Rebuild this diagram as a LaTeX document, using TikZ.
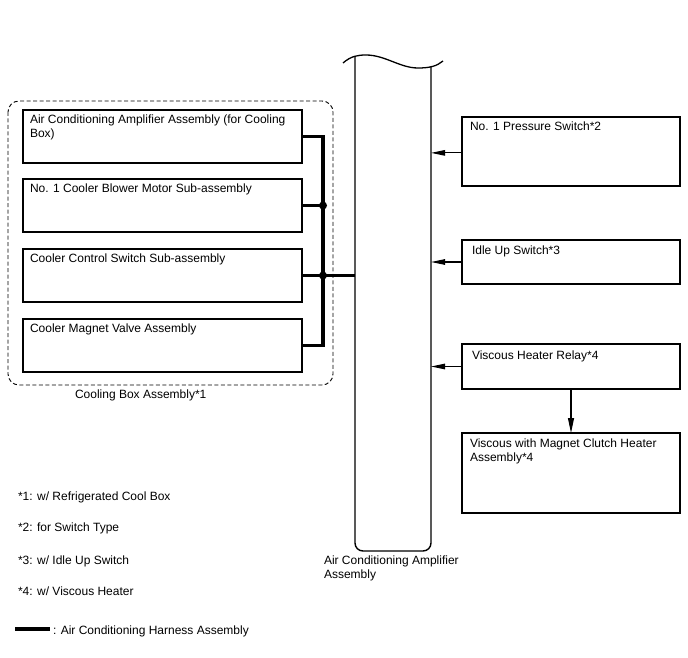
\documentclass[tikz,border=0pt]{standalone}
\usepackage{fontspec}
\setmainfont{Liberation Sans}
\usetikzlibrary{arrows.meta,calc}
\begin{document}
\begin{tikzpicture}[x=1pt,y=-1pt,
  every node/.style={inner sep=0pt,outer sep=0pt},
  box/.style={draw,line width=1.3pt,minimum width=#1,anchor=north west},
  lbl/.style={anchor=north west,align=left,font=\fontsize{12}{14}\selectfont},
  txt/.style={anchor=base west,font=\fontsize{12}{14}\selectfont},
  harness/.style={line width=3.5pt},
  sig/.style={line width=1.1pt,-{Triangle[length=14pt,width=5.5pt]}},
  dot/.style={circle,fill,minimum size=8pt}]
\useasboundingbox (0,0) rectangle (688,658);
% left boxes
\node[box=279pt,minimum height=53pt] (b1) at (23,110) {};
\node[box=279pt,minimum height=53pt] (b2) at (23,179) {};
\node[box=279pt,minimum height=53pt] (b3) at (23,249) {};
\node[box=279pt,minimum height=53pt] (b4) at (23,319) {};
\node[lbl] at ($(b1.north west)+(7,5)$) {Air Conditioning Amplifier Assembly (for Cooling\\Box)};
\node[lbl] at ($(b2.north west)+(7,5)$) {No. 1 Cooler Blower Motor Sub-assembly};
\node[lbl] at ($(b3.north west)+(7,5)$) {Cooler Control Switch Sub-assembly};
\node[lbl] at ($(b4.north west)+(7,5)$) {Cooler Magnet Valve Assembly};
% dashed cooling box
\draw[line width=0.9pt,dash pattern=on 4pt off 2.5pt,rounded corners=11pt] (8,101) rectangle (333,385);
\node[txt] (cbl) at (75,398) {Cooling Box Assembly*1};
% central column
\node (col) at (393,304) [minimum width=76pt,minimum height=494pt] {};
\draw[line width=1.4pt,rounded corners=8pt] (355,57) -- (355,551) -- (431,551) -- (431,67);
\draw[line width=1.3pt] (343,63) .. controls (351,56) and (358,55) .. (366,55)
  .. controls (385,55) and (400,68) .. (418,68) .. controls (430,68) and (437,66) .. (443,61);
\node[lbl] (coll) at (324,556) {Air Conditioning Amplifier\\Assembly};
% harness bus
\coordinate (bus) at (323,0);
\draw[harness] (b1.east) -| (bus |- b4.east) -- (b4.east);
\draw[harness] (b2.east) -- (bus |- b2.east);
\draw[harness] (b3.east) -- (col.west |- b3.east);
\node[dot] (j1) at (bus |- b2.east) {};
\node[dot] (j2) at (bus |- b3.east) {};
% right boxes
\node[box=218pt,minimum height=69pt] (rA) at (462,117) {};
\node[box=218pt,minimum height=44pt] (rB) at (462,240) {};
\node[box=218pt,minimum height=45pt] (rC) at (462,344) {};
\node[box=218pt,minimum height=80pt] (rD) at (462,433) {};
\node[lbl] at ($(rA.north west)+(8,5)$) {No. 1 Pressure Switch*2};
\node[lbl] at ($(rB.north west)+(10,6)$) {Idle Up Switch*3};
\node[lbl] at ($(rC.north west)+(10,7)$) {Viscous Heater Relay*4};
\node[lbl] at ($(rD.north west)+(8,6)$) {Viscous with Magnet Clutch Heater\\Assembly*4};
\draw[sig] ($(rA.north west)!0.52!(rA.south west)$) -- (col.east |- {$(rA.north west)!0.52!(rA.south west)$});
\draw[sig] (rB.west) -- (col.east |- rB.west);
\draw[sig] (rC.west) -- (col.east |- rC.west);
\draw[sig,-{Triangle[length=15pt,width=6pt]}] (rC.south) -- (rD.north);
% legend
\node[txt] (n1) at (18,500) {*1: w/ Refrigerated Cool Box};
\node[txt] (n2) at (18,531) {*2: for Switch Type};
\node[txt] (n3) at (18,564) {*3: w/ Idle Up Switch};
\node[txt] (n4) at (18,595) {*4: w/ Viscous Heater};
\coordinate (lg1) at (15,629);
\coordinate (lg2) at (50,629);
\draw[harness] (lg1) -- (lg2);
\node[txt] (lgt) at (53,634) {: Air Conditioning Harness Assembly};
\end{tikzpicture}
\end{document}
